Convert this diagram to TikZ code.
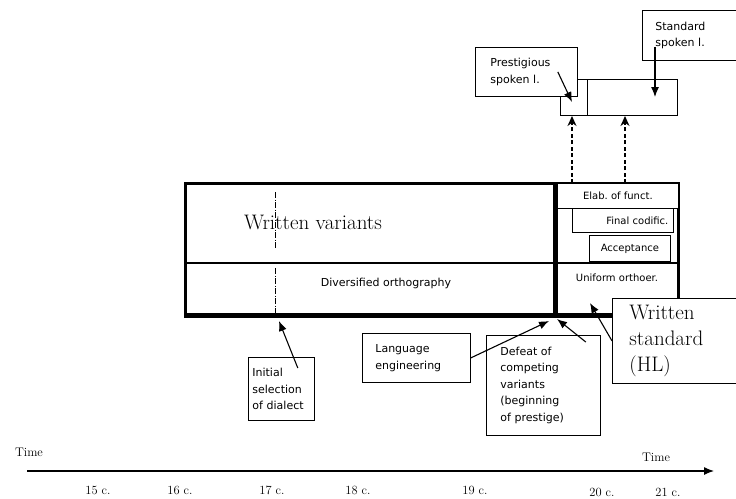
\documentclass[tikz,border=0pt]{standalone}
\usepackage{fontspec}
\newfontfamily\lblfont{DejaVu Sans}
\usetikzlibrary{arrows.meta}

\begin{document}
\begin{tikzpicture}[x=1pt,y=-1pt]

\tikzset{
  lbl/.style={font=\lblfont\fontsize{11}{16.5}\selectfont},
  small/.style={font=\lblfont\fontsize{10}{12}\selectfont},
  box/.style={draw, line width=0.8pt, fill=white, align=left, anchor=north west, lbl},
  big/.style={font=\fontsize{21}{26}\selectfont},
  arr/.style={line width=1.1pt, -{Latex[length=10pt,width=8pt]}},
  dasharr/.style={line width=1.3pt, dash pattern=on 4pt off 2.5pt, -{Stealth[length=10pt,width=9pt]}},
  timelbl/.style={font=\fontsize{12.5}{14}\selectfont}
}

\useasboundingbox (0,0) rectangle (736,498);

% spoken language
\draw[line width=0.8pt] (560,79) rectangle (677,115);
\draw[line width=0.8pt] (587,79) -- (587,115);
\node[box, text width=72, inner xsep=15, minimum height=49] (prest) at (475,47) {Prestigious\\spoken l.};
\node[box, text width=80, inner xsep=13, minimum height=50] (stdspoken) at (642,10) {Standard\\spoken l.};
\coordinate (prest tip) at (572,102);
\coordinate (std tip) at (655,97);
\draw[arr] ([xshift=-20pt]prest.east) -- (prest tip);
\draw[arr] ([xshift=13pt,yshift=14pt]stdspoken.south west) -- (std tip);

% written language
\draw[line width=3pt] (185,183) rectangle (678,316);
\draw[line width=1.2pt] (185,263) -- (678,263);
\draw[line width=5pt] (185,315) -- (678,315);
\draw[line width=5pt] (555,183) -- (555,317);
\draw[line width=0.5pt, dash pattern=on 6pt off 1.5pt on 1pt off 1.5pt] (275,192) -- (275,248) (275,268) -- (275,313);

\node[big] (wvar) at (313,222) {Written variants};
\node[lbl] (divers) at (386,283) {Diversified orthography};

\node[box, small, align=center, minimum width=121, minimum height=25, inner sep=0] (elab) at (557,183) {Elab.\ of funct.};
\node[box, small, align=right, text width=91, inner xsep=5, minimum height=24] (codif) at (572,208) {Final codific.};
\node[box, small, align=center, minimum width=81, minimum height=26, inner sep=0] (accept) at (589,235) {Acceptance};
\node[small] (unif) at (617,278) {Uniform orthoer.};

\coordinate (d1) at (572,116);
\coordinate (d2) at (625,116);
\draw[dasharr] (d1 |- elab.north) -- (d1);
\draw[dasharr] (d2 |- elab.north) -- (d2);

\node[box, big, text width=110, inner xsep=17, minimum height=85] (hl) at (612,298) {Written\\standard\\(HL)};

% events
\node[box, text width=58, inner xsep=4, minimum height=63] (init) at (248,357) {Initial\\selection\\of dialect};
\node[box, text width=82, inner xsep=13, minimum height=49] (lang) at (362,333) {Language\\engineering};
\node[box, text width=86, inner xsep=14, minimum height=100] (defeat) at (486,335) {Defeat of\\competing\\variants\\(beginning\\of prestige)};

\coordinate (sel) at (279,321);
\coordinate (meet a) at (549,321);
\coordinate (meet b) at (557,319);
\coordinate (hl tip) at (590,303);
\draw[arr] ([xshift=-17pt,yshift=-11pt]init.north east) -- (sel);
\draw[arr] (lang.east) -- (meet a);
\draw[arr] ([xshift=-15pt,yshift=-7pt]defeat.north east) -- (meet b);
\draw[arr] (hl.west) -- (hl tip);

% time axis
\node[timelbl] (time l) at (29,452) {Time};
\node[timelbl] (time r) at (656,457) {Time};
\coordinate (t0) at (27,471);
\coordinate (t1) at (714,471);
\draw[line width=1.2pt, -{Latex[length=10pt,width=8pt]}] (t0) -- (t1);
\foreach \x/\y/\c in {98/490/15, 180/490/16, 272/490/17, 358/490/18, 475/490/19, 602/492/20, 668/492/21}
  \node[timelbl] (cent\c) at (\x,\y) {\c\ c.};

\end{tikzpicture}
\end{document}
